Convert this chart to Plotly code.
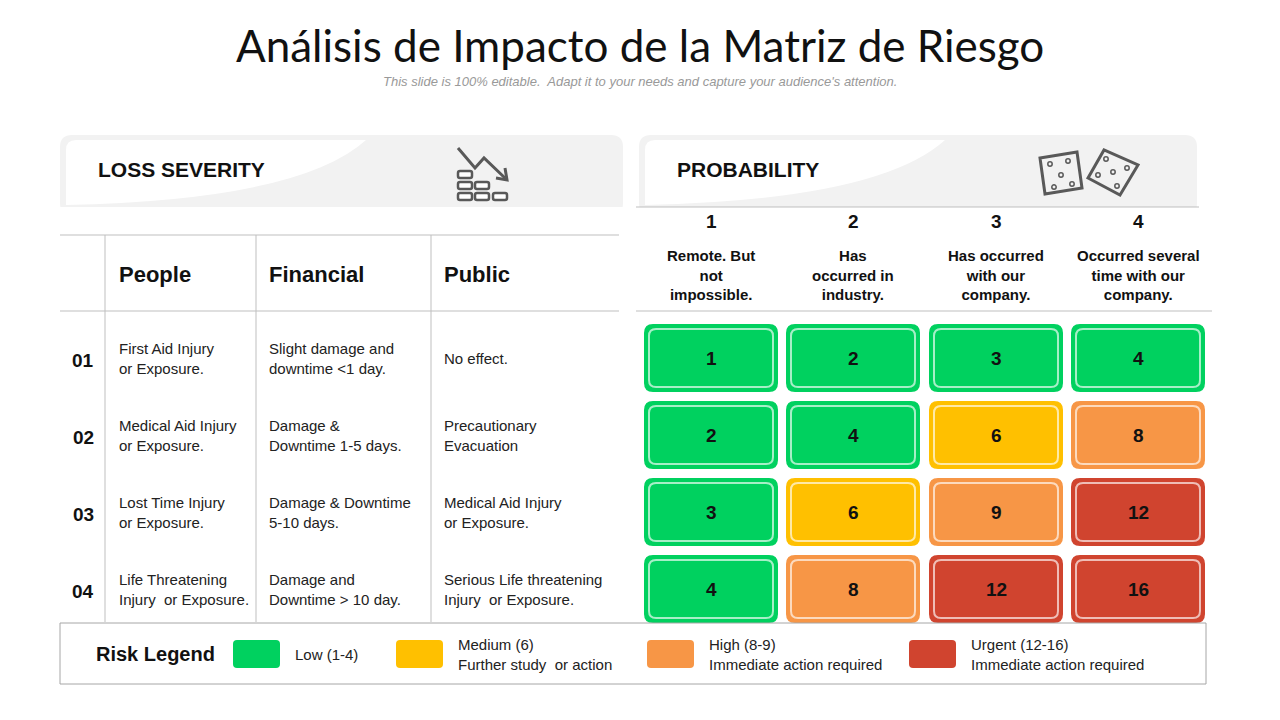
import plotly.graph_objects as go

# ---- data ----
severity_levels = ["01", "02", "03", "04"]
people = ["First Aid Injury<br>or Exposure.", "Medical Aid Injury<br>or Exposure.",
          "Lost Time Injury<br>or Exposure.", "Life Threatening<br>Injury  or Exposure."]
financial = ["Slight damage and<br>downtime <1 day.", "Damage &<br>Downtime 1-5 days.",
             "Damage & Downtime<br>5-10 days.", "Damage and<br>Downtime > 10 day."]
public = ["No effect.", "Precautionary<br>Evacuation",
          "Medical Aid Injury<br>or Exposure.", "Serious Life threatening<br>Injury  or Exposure."]
prob_levels = ["1", "2", "3", "4"]
prob_desc = ["Remote. But<br>not<br>impossible.", "Has<br>occurred in<br>industry.",
             "Has occurred<br>with our<br>company.", "Occurred several<br>time with our<br>company."]
matrix = [[1, 2, 3, 4], [2, 4, 6, 8], [3, 6, 9, 12], [4, 8, 12, 16]]
legend_labels = ["Low (1-4)", "Medium (6)<br>Further study  or action",
                 "High (8-9)<br>Immediate action required", "Urgent (12-16)<br>Immediate action required"]

GREEN, YELLOW, ORANGE, RED = "#00D15F", "#FFC000", "#F79646", "#D0442F"
legend_colors = [GREEN, YELLOW, ORANGE, RED]
FONT = "Liberation Sans, Arial"


def risk_color(v):
    if v <= 4:
        return GREEN
    if v <= 6:
        return YELLOW
    if v <= 9:
        return ORANGE
    return RED


def rr(x0, y0, x1, y1, r):
    return (f"M{x0+r},{y0} L{x1-r},{y0} Q{x1},{y0} {x1},{y0+r} L{x1},{y1-r} "
            f"Q{x1},{y1} {x1-r},{y1} L{x0+r},{y1} Q{x0},{y1} {x0},{y1-r} "
            f"L{x0},{y0+r} Q{x0},{y0} {x0+r},{y0} Z")


shapes = []
ann = []


def text(x, y, s, size=15, bold=False, color="#111", xanchor="center", family=FONT, align="center"):
    ann.append(dict(x=x, y=y, text=f"<b>{s}</b>" if bold else s, showarrow=False,
                    xanchor=xanchor, yanchor="middle", align=align,
                    font=dict(size=size, color=color, family=family)))


def line(x0, y0, x1, y1, color="#BFBFBF", w=1):
    shapes.append(dict(type="line", x0=x0, y0=y0, x1=x1, y1=y1, line=dict(color=color, width=w)))


# title
text(640, 45, "Análisis de Impacto de la Matriz de Riesgo", size=44, color="#111", family="Lato")
text(640, 81, "<i>This slide is 100% editable.  Adapt it to your needs and capture your audience's attention.</i>",
     size=13, color="#999")

# header panels
for (x0, x1, label) in [(60, 623, "LOSS SEVERITY"), (639, 1197, "PROBABILITY")]:
    shapes.append(dict(type="path", path=rr(x0, 135, x1, 215, 12), fillcolor="#F2F2F2", line=dict(width=0)))
    shapes.append(dict(type="rect", x0=x0 - 2, y0=207, x1=x1 + 2, y1=216, fillcolor="white", line=dict(width=0)))
    shapes.append(dict(type="path",
                       path=f"M{x0+6},{150} Q{x0+6},{140} {x0+16},{140} L{x0+306},{140} "
                            f"Q{x0+240},{200} {x0+6},{205} Z",
                       fillcolor="white", line=dict(width=0)))
    text(x0 + 36, 169, label, size=21, bold=True, xanchor="left")

# chart-down icon
shapes.append(dict(type="path", path="M458,148 L475,168 L484,158 L505,178",
                   line=dict(color="#595959", width=3)))
shapes.append(dict(type="path", path="M496,178 L507,180 L505,168", line=dict(color="#595959", width=3)))
for (bx, by) in [(458, 171), (458, 182), (475, 182), (458, 193), (475, 193), (493, 193)]:
    shapes.append(dict(type="path", path=rr(bx, by, bx + 14, by + 7, 2),
                       line=dict(color="#595959", width=2.5), fillcolor="white"))

# dice icons
shapes.append(dict(type="path", path="M1040,158 L1077,152 L1082,188 L1045,194 Z",
                   line=dict(color="#595959", width=3)))
for (dx, dy) in [(1050, 164), (1068, 161), (1061, 175), (1054, 187), (1072, 184)]:
    shapes.append(dict(type="circle", x0=dx - 2.2, y0=dy - 2.2, x1=dx + 2.2, y1=dy + 2.2,
                       line=dict(color="#595959", width=1.5)))
shapes.append(dict(type="path", path="M1088,178 L1104,150 L1138,165 L1120,195 Z",
                   line=dict(color="#595959", width=3)))
for (dx, dy) in [(1106, 159), (1098, 175), (1113, 172), (1127, 168), (1117, 186)]:
    shapes.append(dict(type="circle", x0=dx - 2.2, y0=dy - 2.2, x1=dx + 2.2, y1=dy + 2.2,
                       line=dict(color="#595959", width=1.5)))

# left table
line(60, 235, 619, 235)
line(60, 311, 619, 311)
for vx in [105, 256, 431]:
    line(vx, 235, vx, 622)
row_y = [358, 435, 512, 589]
col_x = [117, 267, 442]
for j, h in enumerate(["People", "Financial", "Public"]):
    text(col_x[j], 274, h, size=22, bold=True, xanchor="left")
for i, lvl in enumerate(severity_levels):
    text(83, row_y[i] + 2, lvl, size=19, bold=True)
    for j, col in enumerate([people, financial, public]):
        text(col_x[j], row_y[i], col[i], size=15, xanchor="left", align="left", color="#222")

# right table
line(636, 207, 1199, 207)
line(636, 311, 1212, 311)
cx = [711, 853, 996, 1138]
for j in range(4):
    text(cx[j], 221, prob_levels[j], size=19, bold=True)
    text(cx[j], 275, prob_desc[j], size=15, bold=True)

# matrix cells
for i, row in enumerate(matrix):
    for j, v in enumerate(row):
        c = risk_color(v)
        x0, x1 = cx[j] - 67, cx[j] + 67
        y0, y1 = row_y[i] - 34, row_y[i] + 34
        shapes.append(dict(type="path", path=rr(x0, y0, x1, y1, 9), fillcolor=c, line=dict(width=0)))
        shapes.append(dict(type="path", path=rr(x0 + 5, y0 + 5, x1 - 5, y1 - 5, 7), fillcolor=c,
                           line=dict(color="rgba(255,255,255,0.65)", width=2)))
        text(cx[j], row_y[i], str(v), size=19, bold=True)

# legend
shapes.append(dict(type="rect", x0=60, y0=623, x1=1206, y1=684, line=dict(color="#A6A6A6", width=1)))
text(94, 654, "Risk Legend", size=20, bold=True, xanchor="left")
lx = [233, 396, 647, 909]
for k in range(4):
    shapes.append(dict(type="path", path=rr(lx[k], 640, lx[k] + 47, 668, 4),
                       fillcolor=legend_colors[k], line=dict(width=0)))
    text(lx[k] + 60, 654, legend_labels[k], size=15, xanchor="left", align="left", color="#222")

# page body has an 8px margin, so shift the ranges to keep things in place
fig = go.Figure(go.Scatter(x=[8, 1288], y=[8, 728], mode="markers", marker=dict(opacity=0),
                           hoverinfo="skip", showlegend=False))
fig.update_layout(width=1280, height=720, margin=dict(l=0, r=0, t=0, b=0),
                  plot_bgcolor="white", paper_bgcolor="white", shapes=shapes, annotations=ann,
                  xaxis=dict(range=[8, 1288], visible=False, fixedrange=True),
                  yaxis=dict(range=[728, 8], visible=False, fixedrange=True))
fig.write_html("out.html", config={"displayModeBar": False})
